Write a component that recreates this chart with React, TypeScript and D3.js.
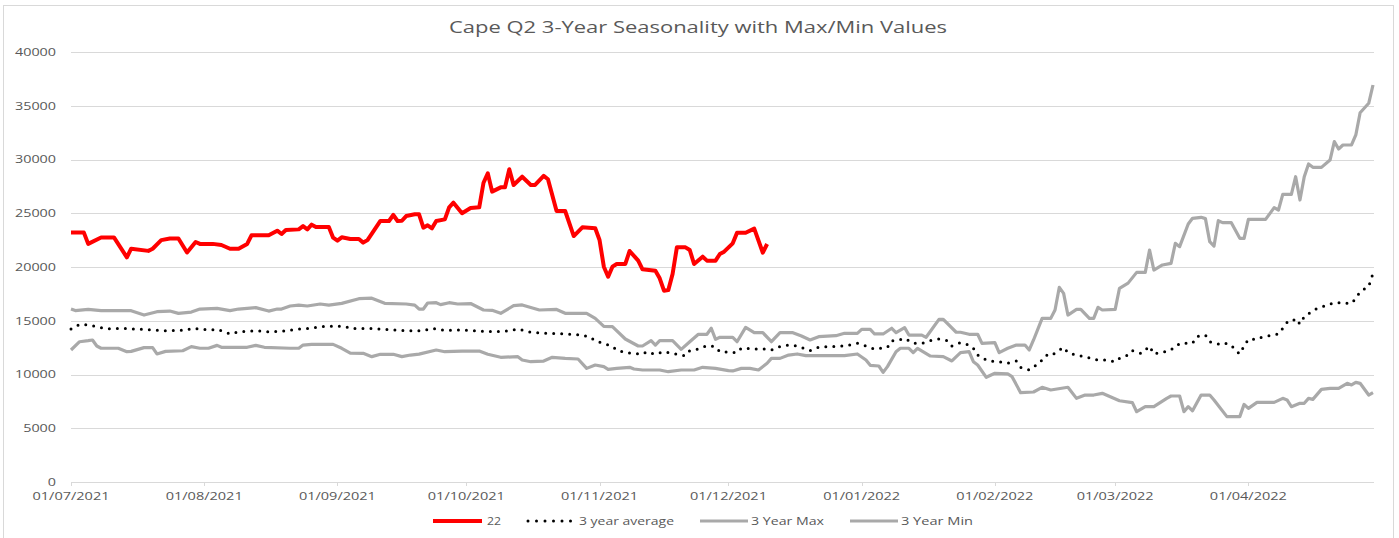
import * as d3 from 'd3'

// values (date, value)
const series22: [string, number][] = [
  ['2021-07-01', 23200], ['2021-07-04', 23200], ['2021-07-05', 22150], ['2021-07-08', 22750], ['2021-07-11', 22750],
  ['2021-07-14', 20900], ['2021-07-15', 21700], ['2021-07-19', 21500], ['2021-07-20', 21700], ['2021-07-22', 22500],
  ['2021-07-24', 22650], ['2021-07-26', 22650], ['2021-07-28', 21350], ['2021-07-30', 22330], ['2021-07-31', 22150],
  ['2021-08-03', 22150], ['2021-08-05', 22050], ['2021-08-07', 21700], ['2021-08-09', 21700], ['2021-08-11', 22150],
  ['2021-08-12', 22950], ['2021-08-16', 22950], ['2021-08-18', 23380], ['2021-08-19', 23070], ['2021-08-20', 23440],
  ['2021-08-23', 23500], ['2021-08-24', 23800], ['2021-08-25', 23500], ['2021-08-26', 23940], ['2021-08-27', 23720],
  ['2021-08-30', 23720], ['2021-08-31', 22730], ['2021-09-01', 22450], ['2021-09-02', 22760], ['2021-09-04', 22600],
  ['2021-09-06', 22600], ['2021-09-07', 22270], ['2021-09-08', 22500], ['2021-09-11', 24280], ['2021-09-13', 24280],
  ['2021-09-14', 24840], ['2021-09-15', 24280], ['2021-09-16', 24300], ['2021-09-17', 24740], ['2021-09-19', 24900],
  ['2021-09-20', 24900], ['2021-09-21', 23660], ['2021-09-22', 23880], ['2021-09-23', 23600], ['2021-09-24', 24280],
  ['2021-09-26', 24430], ['2021-09-27', 25550], ['2021-09-28', 25980], ['2021-09-30', 25000], ['2021-10-02', 25490],
  ['2021-10-04', 25550], ['2021-10-05', 27840], ['2021-10-06', 28710], ['2021-10-07', 27010], ['2021-10-09', 27410],
  ['2021-10-10', 27410], ['2021-10-11', 29090], ['2021-10-12', 27630], ['2021-10-14', 28400], ['2021-10-16', 27630],
  ['2021-10-17', 27630], ['2021-10-19', 28470], ['2021-10-20', 28160], ['2021-10-22', 25210], ['2021-10-24', 25210],
  ['2021-10-26', 22880], ['2021-10-28', 23690], ['2021-10-31', 23600], ['2021-11-01', 22510], ['2021-11-02', 20030],
  ['2021-11-03', 19100], ['2021-11-04', 20030], ['2021-11-05', 20280], ['2021-11-07', 20280], ['2021-11-08', 21490],
  ['2021-11-10', 20590], ['2021-11-11', 19780], ['2021-11-14', 19660], ['2021-11-15', 18950], ['2021-11-16', 17800],
  ['2021-11-17', 17850], ['2021-11-18', 19350], ['2021-11-19', 21830], ['2021-11-21', 21830], ['2021-11-22', 21580],
  ['2021-11-23', 20280], ['2021-11-25', 20960], ['2021-11-26', 20590], ['2021-11-28', 20590], ['2021-11-29', 21210],
  ['2021-11-30', 21430], ['2021-12-02', 22200], ['2021-12-03', 23190], ['2021-12-05', 23190], ['2021-12-07', 23570],
  ['2021-12-09', 21330], ['2021-12-10', 22140],
]

const seriesAvg: [string, number][] = [
  ['2021-07-01', 14230], ['2021-07-03', 14670], ['2021-07-05', 14600], ['2021-07-07', 14450], ['2021-07-09', 14260],
  ['2021-07-13', 14290], ['2021-07-16', 14230], ['2021-07-20', 14140], ['2021-07-23', 14080], ['2021-07-28', 14140],
  ['2021-07-29', 14290], ['2021-07-31', 14230], ['2021-08-02', 14140], ['2021-08-04', 14200], ['2021-08-06', 13920],
  ['2021-08-07', 13770], ['2021-08-09', 13980], ['2021-08-13', 14080], ['2021-08-16', 13980], ['2021-08-20', 14050],
  ['2021-08-22', 14200], ['2021-08-26', 14290], ['2021-08-28', 14450], ['2021-09-01', 14510], ['2021-09-03', 14450],
  ['2021-09-04', 14280], ['2021-09-08', 14290], ['2021-09-12', 14200], ['2021-09-17', 14080], ['2021-09-21', 14080],
  ['2021-09-23', 14290], ['2021-09-24', 14230], ['2021-09-26', 14100], ['2021-09-30', 14140], ['2021-10-04', 14050],
  ['2021-10-07', 13980], ['2021-10-11', 14050], ['2021-10-13', 14230], ['2021-10-16', 13920], ['2021-10-20', 13830],
  ['2021-10-24', 13770], ['2021-10-28', 13680], ['2021-10-30', 13430], ['2021-10-31', 13120], ['2021-11-02', 12900],
  ['2021-11-04', 12620], ['2021-11-05', 12280], ['2021-11-07', 12030], ['2021-11-11', 11880], ['2021-11-12', 12120],
  ['2021-11-14', 11880], ['2021-11-16', 12120], ['2021-11-19', 11880], ['2021-11-21', 11750], ['2021-11-22', 12220],
  ['2021-11-24', 12370], ['2021-11-26', 12680], ['2021-11-28', 12590], ['2021-11-29', 12120], ['2021-12-03', 12030],
  ['2021-12-04', 12440], ['2021-12-08', 12370], ['2021-12-10', 12370], ['2021-12-11', 12280], ['2021-12-13', 12590],
  ['2021-12-15', 12740], ['2021-12-17', 12650], ['2021-12-19', 12370], ['2021-12-20', 12220], ['2021-12-22', 12530],
  ['2021-12-24', 12590], ['2021-12-28', 12650], ['2021-12-31', 12900], ['2022-01-02', 12650], ['2022-01-04', 12370],
  ['2022-01-07', 12530], ['2022-01-08', 13150], ['2022-01-09', 13150], ['2022-01-11', 13360], ['2022-01-13', 12900],
  ['2022-01-15', 12900], ['2022-01-17', 13150], ['2022-01-19', 13300], ['2022-01-21', 13150], ['2022-01-22', 12650],
  ['2022-01-24', 12960], ['2022-01-26', 12750], ['2022-01-27', 12440], ['2022-01-28', 11810], ['2022-01-30', 11350],
  ['2022-01-31', 11250], ['2022-02-02', 11190], ['2022-02-04', 11040], ['2022-02-06', 11250], ['2022-02-07', 10670],
  ['2022-02-09', 10420], ['2022-02-10', 10670], ['2022-02-12', 11350], ['2022-02-13', 11810], ['2022-02-14', 11720],
  ['2022-02-16', 12280], ['2022-02-17', 12530], ['2022-02-18', 12030], ['2022-02-20', 11810], ['2022-02-22', 11660],
  ['2022-02-24', 11440], ['2022-02-25', 11350], ['2022-02-27', 11350], ['2022-03-01', 11190], ['2022-03-02', 11500],
  ['2022-03-04', 11810], ['2022-03-05', 12220], ['2022-03-07', 11970], ['2022-03-08', 12280], ['2022-03-09', 12650],
  ['2022-03-10', 11910], ['2022-03-12', 12120], ['2022-03-13', 12120], ['2022-03-15', 12530], ['2022-03-16', 12900],
  ['2022-03-19', 12900], ['2022-03-20', 13520], ['2022-03-22', 13670], ['2022-03-23', 13050], ['2022-03-25', 12840],
  ['2022-03-26', 12960], ['2022-03-28', 12740], ['2022-03-29', 12220], ['2022-03-30', 11910], ['2022-03-31', 12650],
  ['2022-04-01', 13270], ['2022-04-03', 13270], ['2022-04-04', 13460], ['2022-04-06', 13610], ['2022-04-08', 13770],
  ['2022-04-09', 14300], ['2022-04-10', 14850], ['2022-04-11', 14850], ['2022-04-12', 15220], ['2022-04-13', 14700],
  ['2022-04-14', 15380], ['2022-04-16', 15940], ['2022-04-17', 16160], ['2022-04-19', 16400], ['2022-04-21', 16680],
  ['2022-04-22', 16680], ['2022-04-23', 16620], ['2022-04-25', 16620], ['2022-04-26', 17080], ['2022-04-27', 17700],
  ['2022-04-29', 18200], ['2022-04-30', 19400],
]

const seriesMax: [string, number][] = [
  ['2021-07-01', 16090], ['2021-07-02', 15950], ['2021-07-05', 16050], ['2021-07-08', 15940], ['2021-07-15', 15940],
  ['2021-07-18', 15530], ['2021-07-21', 15840], ['2021-07-24', 15900], ['2021-07-26', 15690], ['2021-07-29', 15810],
  ['2021-07-31', 16090], ['2021-08-04', 16150], ['2021-08-07', 15940], ['2021-08-09', 16090], ['2021-08-13', 16220],
  ['2021-08-16', 15900], ['2021-08-18', 16090], ['2021-08-19', 16090], ['2021-08-21', 16370], ['2021-08-23', 16460],
  ['2021-08-25', 16370], ['2021-08-28', 16560], ['2021-08-30', 16460], ['2021-09-02', 16620], ['2021-09-06', 17050],
  ['2021-09-09', 17100], ['2021-09-12', 16620], ['2021-09-17', 16560], ['2021-09-19', 16450], ['2021-09-20', 16090],
  ['2021-09-21', 16090], ['2021-09-22', 16650], ['2021-09-24', 16680], ['2021-09-25', 16500], ['2021-09-27', 16680],
  ['2021-09-29', 16560], ['2021-10-02', 16600], ['2021-10-05', 16000], ['2021-10-07', 15970], ['2021-10-09', 15690],
  ['2021-10-12', 16400], ['2021-10-14', 16470], ['2021-10-18', 16000], ['2021-10-22', 16050], ['2021-10-24', 15690],
  ['2021-10-29', 15690], ['2021-10-31', 15220], ['2021-11-02', 14480], ['2021-11-04', 14450], ['2021-11-07', 13300],
  ['2021-11-10', 12650], ['2021-11-11', 12650], ['2021-11-13', 13150], ['2021-11-14', 12740], ['2021-11-15', 13150],
  ['2021-11-18', 13150], ['2021-11-20', 12340], ['2021-11-22', 13050], ['2021-11-24', 13740], ['2021-11-26', 13740],
  ['2021-11-27', 14300], ['2021-11-28', 13270], ['2021-11-29', 13460], ['2021-12-02', 13460], ['2021-12-03', 13050],
  ['2021-12-05', 14390], ['2021-12-07', 13890], ['2021-12-09', 13890], ['2021-12-11', 13050], ['2021-12-13', 13890],
  ['2021-12-16', 13890], ['2021-12-18', 13580], ['2021-12-20', 13210], ['2021-12-22', 13520], ['2021-12-26', 13610],
  ['2021-12-28', 13830], ['2021-12-31', 13830], ['2022-01-01', 14200], ['2022-01-03', 14200], ['2022-01-04', 13770],
  ['2022-01-06', 13770], ['2022-01-08', 14300], ['2022-01-09', 13890], ['2022-01-11', 14360], ['2022-01-12', 13670],
  ['2022-01-15', 13670], ['2022-01-16', 13460], ['2022-01-19', 15130], ['2022-01-20', 15130], ['2022-01-23', 13930],
  ['2022-01-24', 13930], ['2022-01-26', 13740], ['2022-01-28', 13740], ['2022-01-29', 12900], ['2022-02-01', 12960],
  ['2022-02-02', 12030], ['2022-02-04', 12440], ['2022-02-06', 12740], ['2022-02-08', 12740], ['2022-02-09', 12280],
  ['2022-02-10', 13210], ['2022-02-12', 15220], ['2022-02-14', 15220], ['2022-02-15', 16000], ['2022-02-16', 18110],
  ['2022-02-17', 17550], ['2022-02-18', 15530], ['2022-02-20', 16060], ['2022-02-21', 16060], ['2022-02-23', 15220],
  ['2022-02-24', 15220], ['2022-02-25', 16250], ['2022-02-26', 16000], ['2022-03-01', 16060], ['2022-03-02', 18020],
  ['2022-03-04', 18500], ['2022-03-06', 19500], ['2022-03-08', 19500], ['2022-03-09', 21580], ['2022-03-10', 19720],
  ['2022-03-12', 20190], ['2022-03-14', 20340], ['2022-03-15', 22200], ['2022-03-16', 21890], ['2022-03-18', 24000],
  ['2022-03-19', 24530], ['2022-03-21', 24620], ['2022-03-22', 24500], ['2022-03-23', 22360], ['2022-03-24', 21950],
  ['2022-03-25', 24310], ['2022-03-26', 24130], ['2022-03-28', 24130], ['2022-03-30', 22670], ['2022-03-31', 22670],
  ['2022-04-01', 24430], ['2022-04-05', 24430], ['2022-04-07', 25520], ['2022-04-08', 25300], ['2022-04-09', 26760],
  ['2022-04-11', 26760], ['2022-04-12', 28400], ['2022-04-13', 26230], ['2022-04-14', 28400], ['2022-04-15', 29580],
  ['2022-04-16', 29270], ['2022-04-18', 29270], ['2022-04-20', 29950], ['2022-04-21', 31660], ['2022-04-22', 30980],
  ['2022-04-23', 31350], ['2022-04-25', 31350], ['2022-04-26', 32280], ['2022-04-27', 34350], ['2022-04-29', 35230],
  ['2022-04-30', 36930],
]

const seriesMin: [string, number][] = [
  ['2021-07-01', 12280], ['2021-07-03', 13050], ['2021-07-05', 13150], ['2021-07-06', 13210], ['2021-07-07', 12650],
  ['2021-07-08', 12440], ['2021-07-12', 12440], ['2021-07-14', 12120], ['2021-07-15', 12150], ['2021-07-18', 12500],
  ['2021-07-20', 12500], ['2021-07-21', 11910], ['2021-07-23', 12150], ['2021-07-27', 12210], ['2021-07-29', 12590],
  ['2021-07-31', 12440], ['2021-08-02', 12440], ['2021-08-04', 12710], ['2021-08-05', 12530], ['2021-08-11', 12530],
  ['2021-08-13', 12710], ['2021-08-15', 12530], ['2021-08-21', 12440], ['2021-08-23', 12440], ['2021-08-24', 12740],
  ['2021-08-26', 12800], ['2021-08-31', 12800], ['2021-09-02', 12440], ['2021-09-04', 11990], ['2021-09-07', 11970],
  ['2021-09-09', 11660], ['2021-09-11', 11880], ['2021-09-14', 11880], ['2021-09-16', 11660], ['2021-09-18', 11810],
  ['2021-09-20', 11900], ['2021-09-24', 12280], ['2021-09-26', 12120], ['2021-09-30', 12180], ['2021-10-04', 12180],
  ['2021-10-06', 11880], ['2021-10-09', 11600], ['2021-10-13', 11660], ['2021-10-14', 11350], ['2021-10-16', 11190],
  ['2021-10-19', 11250], ['2021-10-21', 11600], ['2021-10-24', 11500], ['2021-10-27', 11440], ['2021-10-29', 10570],
  ['2021-10-31', 10880], ['2021-11-02', 10730], ['2021-11-03', 10480], ['2021-11-05', 10570], ['2021-11-08', 10670],
  ['2021-11-09', 10510], ['2021-11-11', 10420], ['2021-11-15', 10420], ['2021-11-17', 10260], ['2021-11-20', 10420],
  ['2021-11-23', 10420], ['2021-11-25', 10670], ['2021-11-28', 10570], ['2021-12-01', 10360], ['2021-12-02', 10330],
  ['2021-12-04', 10570], ['2021-12-06', 10570], ['2021-12-08', 10420], ['2021-12-10', 11040], ['2021-12-11', 11500],
  ['2021-12-13', 11500], ['2021-12-15', 11810], ['2021-12-17', 11910], ['2021-12-19', 11750], ['2021-12-23', 11750],
  ['2021-12-28', 11750], ['2021-12-31', 11910], ['2022-01-02', 11350], ['2022-01-03', 10850], ['2022-01-05', 10790],
  ['2022-01-06', 10200], ['2022-01-07', 10730], ['2022-01-09', 12120], ['2022-01-10', 12440], ['2022-01-12', 12440],
  ['2022-01-13', 12030], ['2022-01-14', 12440], ['2022-01-17', 11720], ['2022-01-20', 11660], ['2022-01-22', 11260],
  ['2022-01-24', 12030], ['2022-01-26', 12120], ['2022-01-27', 11190], ['2022-01-28', 10880], ['2022-01-30', 9740],
  ['2022-02-01', 10110], ['2022-02-04', 10050], ['2022-02-05', 9800], ['2022-02-07', 8310], ['2022-02-10', 8370],
  ['2022-02-12', 8810], ['2022-02-14', 8560], ['2022-02-18', 8810], ['2022-02-20', 7780], ['2022-02-22', 8090],
  ['2022-02-24', 8090], ['2022-02-26', 8250], ['2022-03-02', 7560], ['2022-03-05', 7380], ['2022-03-06', 6540],
  ['2022-03-08', 7010], ['2022-03-10', 7010], ['2022-03-13', 7780], ['2022-03-14', 8000], ['2022-03-16', 8000],
  ['2022-03-17', 6540], ['2022-03-18', 7010], ['2022-03-19', 6630], ['2022-03-21', 8090], ['2022-03-23', 8090],
  ['2022-03-24', 7630], ['2022-03-27', 6080], ['2022-03-30', 6080], ['2022-03-31', 7220], ['2022-04-01', 6850],
  ['2022-04-03', 7410], ['2022-04-07', 7410], ['2022-04-09', 7780], ['2022-04-10', 7630], ['2022-04-11', 7010],
  ['2022-04-13', 7320], ['2022-04-14', 7320], ['2022-04-15', 7780], ['2022-04-16', 7690], ['2022-04-18', 8620],
  ['2022-04-20', 8710], ['2022-04-22', 8710], ['2022-04-24', 9180], ['2022-04-25', 9030], ['2022-04-26', 9270],
  ['2022-04-27', 9180], ['2022-04-29', 8090], ['2022-04-30', 8310],
]

const yTicks = [0, 5000, 10000, 15000, 20000, 25000, 30000, 35000, 40000]
const legendItems = [
  { label: '22', kind: 'red', width: 14 },
  { label: '3 year average', kind: 'dot', width: 95 },
  { label: '3 Year Max', kind: 'grey', width: 73 },
  { label: '3 Year Min', kind: 'grey', width: 72 },
]

const W = 1399, H = 538
const FONT = '"Open Sans", "Noto Sans", sans-serif'
const TXT = '#595959'
const GREY = '#a9a9a9'

const parse = d3.timeParse('%Y-%m-%d')
const fmt = d3.timeFormat('%d/%m/%Y')

export default function App() {
  const x = d3.scaleTime()
    .domain([parse('2021-07-01')!, parse('2022-04-30')!])
    .range([71, 1373])
  const y = d3.scaleLinear().domain([0, 40000]).range([482, 52])

  const line = d3.line<[string, number]>()
    .x(d => x(parse(d[0])!))
    .y(d => y(d[1]))

  const months = d3.timeMonth.range(parse('2021-07-01')!, parse('2022-05-01')!)

  // legend x positions
  const legendX = [433, 527, 700, 850]

  return (
    <svg width={W} height={H} style={{ position: 'absolute', left: 0, top: 0, background: '#fff' }}
      fontFamily={FONT}>
      <rect x={3.5} y={5.5} width={1390} height={540} fill="#fff" stroke="#d9d9d9" />

      <text x={698} y={33} textAnchor="middle" fontSize={16} fill={TXT}
        textLength={498} lengthAdjust="spacingAndGlyphs">
        Cape Q2 3-Year Seasonality with Max/Min Values
      </text>

      {yTicks.map(t => (
        <g key={t}>
          <line x1={71} x2={1374} y1={Math.round(y(t)) + 0.5} y2={Math.round(y(t)) + 0.5}
            stroke="#d9d9d9" strokeWidth={1} />
          <text x={56} y={y(t)} dy="0.36em" textAnchor="end" fontSize={10.5} fill={TXT}
            textLength={String(t).length * 8.2} lengthAdjust="spacingAndGlyphs">{t}</text>
        </g>
      ))}

      {months.map(m => (
        <g key={+m}>
          <line x1={Math.round(x(m)) + 0.5} x2={Math.round(x(m)) + 0.5} y1={482} y2={486} stroke="#d9d9d9" />
          <text x={x(m)} y={499.5} textAnchor="middle" fontSize={10.5} fill={TXT}
            textLength={77} lengthAdjust="spacingAndGlyphs">{fmt(m)}</text>
        </g>
      ))}

      <path d={line(seriesMax)!} fill="none" stroke={GREY} strokeWidth={3.2} strokeLinejoin="round" />
      <path d={line(seriesMin)!} fill="none" stroke={GREY} strokeWidth={3.2} strokeLinejoin="round" />
      <path d={line(seriesAvg)!} fill="none" stroke="#000" strokeWidth={3} strokeLinecap="round"
        strokeDasharray="0 8" />
      <path d={line(series22)!} fill="none" stroke="#ff0000" strokeWidth={4} strokeLinejoin="round" />

      {legendItems.map((it, i) => {
        const lx = legendX[i]
        const ly = 521
        return (
          <g key={it.label}>
            {it.kind === 'red' && <line x1={lx} x2={lx + 49} y1={ly} y2={ly} stroke="#ff0000" strokeWidth={4} />}
            {it.kind === 'grey' && <line x1={lx} x2={lx + 48} y1={ly} y2={ly} stroke={GREY} strokeWidth={3.2} />}
            {it.kind === 'dot' && <line x1={lx + 1} x2={lx + 44} y1={ly} y2={ly} stroke="#000" strokeWidth={3}
              strokeLinecap="round" strokeDasharray="0 8.5" />}
            <text x={lx + (it.kind === 'dot' ? 52 : it.kind === 'red' ? 54 : 51)} y={ly} dy="0.36em"
              fontSize={10.5} fill={TXT} textLength={it.width} lengthAdjust="spacingAndGlyphs">{it.label}</text>
          </g>
        )
      })}
    </svg>
  )
}
